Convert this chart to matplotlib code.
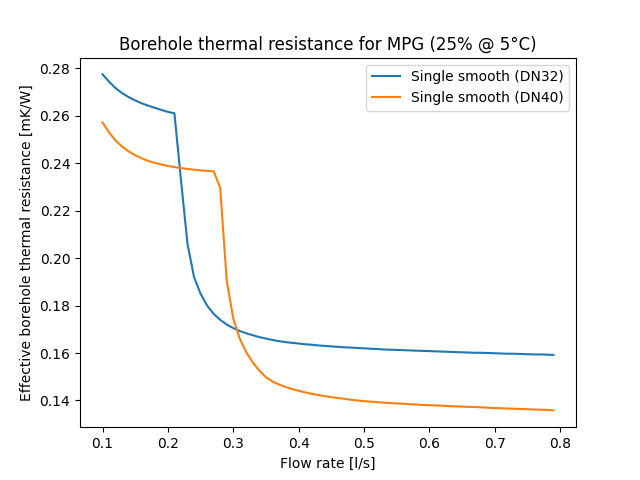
import numpy as np
import matplotlib
matplotlib.use("Agg")
import matplotlib.pyplot as plt

# Flow rate [l/s]
flow = np.round(np.arange(0.10, 0.795, 0.01), 2)

# Borehole resistance, DN32
r_dn32 = [0.2775, 0.2744, 0.2717, 0.2696, 0.2679, 0.2665, 0.2653, 0.2643, 0.2634, 0.2625,
          0.2617, 0.2611, 0.2330, 0.2060, 0.1920, 0.1850, 0.1800, 0.1765, 0.1740, 0.1720,
          0.1705, 0.1693, 0.1683, 0.1675, 0.1667, 0.1661, 0.1655, 0.1650, 0.1646, 0.1643,
          0.1640, 0.1637, 0.1635, 0.1632, 0.1630, 0.1628, 0.1626, 0.1624, 0.1623, 0.1621,
          0.1620, 0.1618, 0.1617, 0.1615, 0.1614, 0.1613, 0.1612, 0.1611, 0.1610, 0.1609,
          0.1608, 0.1607, 0.1606, 0.1605, 0.1604, 0.1603, 0.1602, 0.1601, 0.1601, 0.1600,
          0.1599, 0.1598, 0.1597, 0.1597, 0.1596, 0.1595, 0.1594, 0.1594, 0.1593, 0.1592]

# Borehole resistance, DN40
r_dn40 = [0.2572, 0.2530, 0.2496, 0.2470, 0.2450, 0.2434, 0.2421, 0.2410, 0.2402, 0.2395,
          0.2389, 0.2384, 0.2380, 0.2376, 0.2373, 0.2370, 0.2368, 0.2366, 0.2297, 0.1905,
          0.1745, 0.1660, 0.1603, 0.1560, 0.1525, 0.1498, 0.1480, 0.1467, 0.1457, 0.1448,
          0.1441, 0.1434, 0.1428, 0.1423, 0.1418, 0.1414, 0.1410, 0.1407, 0.1403, 0.1400,
          0.1397, 0.1395, 0.1393, 0.1391, 0.1389, 0.1387, 0.1386, 0.1384, 0.1383, 0.1381,
          0.1380, 0.1379, 0.1378, 0.1376, 0.1375, 0.1374, 0.1373, 0.1372, 0.1371, 0.1369,
          0.1368, 0.1367, 0.1366, 0.1365, 0.1364, 0.1363, 0.1362, 0.1361, 0.1360, 0.1358]

plt.figure(figsize=(6.4, 4.8))
plt.plot(flow, r_dn32, label='Single smooth (DN32)')
plt.plot(flow, r_dn40, label='Single smooth (DN40)')
plt.xlabel('Flow rate [l/s]')
plt.ylabel('Effective borehole thermal resistance [mK/W]')
plt.title('Borehole thermal resistance for MPG (25% @ 5°C)')
plt.legend()
plt.savefig('out.png', dpi=100)
